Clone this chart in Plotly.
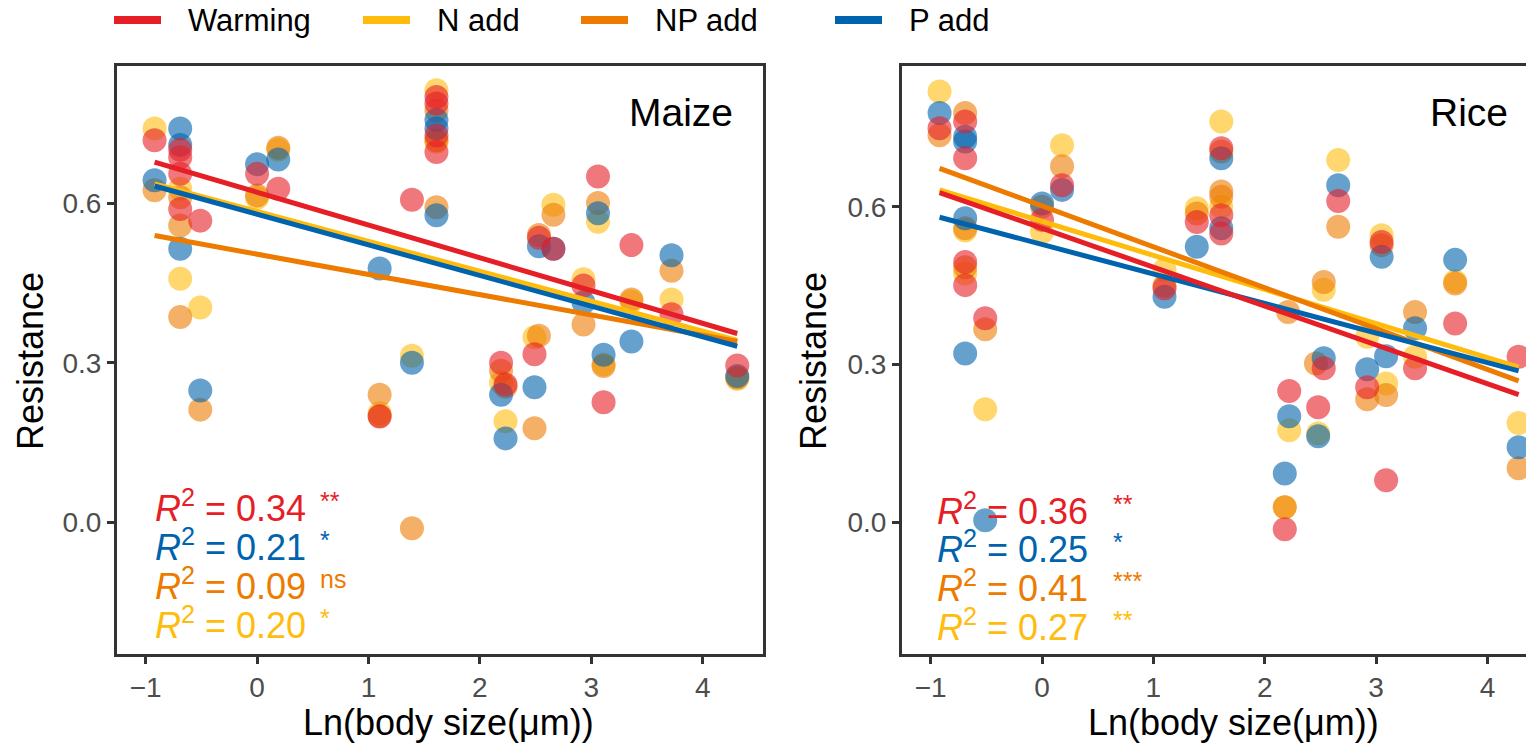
import plotly.graph_objects as go

W, H = 1534, 744
OFF = 8  # the page body margin shifts the figure by 8 px

# ---------------- data ----------------
series_names = ["N add", "NP add", "P add", "Warming"]          # drawing order
legend_order = ["Warming", "N add", "NP add", "P add"]
colors = {"Warming": "#E61E26", "N add": "#FFBC0D", "NP add": "#EC7B00", "P add": "#0063AE"}

# Maize panel
maize_warming_x = [-0.92, -0.69, -0.69, -0.69, -0.69, -0.51, 0.0, 0.19, 1.10, 1.39, 1.61, 1.61, 1.61, 1.61,
                   2.19, 2.23, 2.49, 2.53, 2.66, 2.93, 3.06, 3.11, 3.36, 3.72, 4.31]
maize_warming_y = [0.718, 0.700, 0.686, 0.655, 0.589, 0.567, 0.655, 0.627, 0.199, 0.606, 0.799, 0.787, 0.727, 0.696,
                   0.300, 0.259, 0.316, 0.535, 0.514, 0.445, 0.650, 0.226, 0.521, 0.391, 0.295]
maize_nadd_x = [-0.92, -0.69, -0.69, -0.51, 0.0, 0.19, 1.10, 1.39, 1.61, 1.61, 2.19, 2.23, 2.49, 2.66, 2.93, 3.06,
                3.11, 3.36, 3.72, 4.31]
maize_nadd_y = [0.740, 0.627, 0.458, 0.404, 0.610, 0.700, 0.205, 0.313, 0.812, 0.715, 0.263, 0.190, 0.348, 0.597,
                0.457, 0.565, 0.297, 0.415, 0.419, 0.270]
maize_npadd_x = [-0.92, -0.69, -0.69, -0.69, -0.51, 0.0, 0.19, 1.10, 1.10, 1.39, 1.61, 1.61, 1.61, 2.19, 2.23,
                 2.49, 2.53, 2.53, 2.66, 2.93, 3.06, 3.11, 3.36, 3.72, 4.31]
maize_npadd_y = [0.624, 0.611, 0.558, 0.386, 0.212, 0.614, 0.704, 0.240, 0.200, -0.011, 0.774, 0.718, 0.592, 0.285,
                 0.255, 0.177, 0.351, 0.540, 0.578, 0.372, 0.600, 0.294, 0.419, 0.473, 0.272]
maize_padd_x = [-0.92, -0.69, -0.69, -0.69, -0.51, 0.0, 0.19, 1.10, 1.39, 1.61, 1.61, 1.61, 2.19, 2.23, 2.49,
                2.53, 2.66, 2.93, 3.06, 3.11, 3.36, 3.72, 4.31]
maize_padd_y = [0.643, 0.740, 0.709, 0.514, 0.248, 0.673, 0.682, 0.477, 0.300, 0.756, 0.740, 0.577, 0.240, 0.158,
                0.254, 0.519, 0.514, 0.413, 0.581, 0.315, 0.340, 0.502, 0.275]

# Rice panel
rice_warming_x = [-0.92, -0.69, -0.69, -0.69, -0.69, -0.51, 0.0, 0.18, 1.10, 1.39, 1.61, 1.61, 1.61, 2.18, 2.22,
                  2.48, 2.53, 2.66, 2.92, 3.05, 3.09, 3.35, 3.71, 4.28]
rice_warming_y = [0.749, 0.762, 0.692, 0.495, 0.451, 0.388, 0.575, 0.641, 0.445, 0.571, 0.711, 0.584, 0.549, -0.013,
                  0.250, 0.219, 0.293, 0.611, 0.257, 0.533, 0.080, 0.293, 0.378, 0.315]
rice_nadd_x = [-0.92, -0.69, -0.69, -0.51, 0.0, 0.18, 1.10, 1.39, 1.61, 1.61, 2.18, 2.22, 2.48, 2.53, 2.66, 2.92,
               3.05, 3.09, 3.35, 3.71, 4.28]
rice_nadd_y = [0.819, 0.555, 0.473, 0.215, 0.552, 0.717, 0.480, 0.597, 0.762, 0.600, 0.029, 0.175, 0.169, 0.442,
               0.689, 0.353, 0.546, 0.264, 0.315, 0.458, 0.189]
rice_npadd_x = [-0.92, -0.69, -0.69, -0.69, -0.51, 0.0, 0.18, 1.10, 1.39, 1.61, 1.61, 1.61, 2.18, 2.21, 2.46,
                2.53, 2.66, 2.92, 3.05, 3.09, 3.35, 3.71, 4.28]
rice_npadd_y = [0.736, 0.778, 0.559, 0.485, 0.367, 0.600, 0.677, 0.450, 0.587, 0.705, 0.629, 0.619, 0.029, 0.400,
                0.302, 0.457, 0.562, 0.234, 0.527, 0.242, 0.400, 0.454, 0.103]
rice_padd_x = [-0.92, -0.69, -0.69, -0.69, -0.69, -0.51, 0.0, 0.18, 1.10, 1.39, 1.61, 1.61, 2.18, 2.22, 2.48,
               2.53, 2.66, 2.92, 3.05, 3.09, 3.35, 3.71, 4.28]
rice_padd_y = [0.778, 0.733, 0.724, 0.578, 0.321, 0.004, 0.606, 0.632, 0.429, 0.524, 0.692, 0.559, 0.093, 0.202,
               0.164, 0.312, 0.641, 0.291, 0.505, 0.316, 0.369, 0.499, 0.143]

# fitted regression lines (y at the two ends of the x span)
maize_fit_x = [-0.92, 4.31]
maize_fit_warming = [0.677, 0.355]
maize_fit_nadd = [0.636, 0.342]
maize_fit_npadd = [0.539, 0.340]
maize_fit_padd = [0.632, 0.331]

rice_fit_x = [-0.92, 4.28]
rice_fit_warming = [0.627, 0.243]
rice_fit_nadd = [0.632, 0.295]
rice_fit_npadd = [0.673, 0.269]
rice_fit_padd = [0.580, 0.288]

# R^2 labels (order as printed) and significance marks
maize_r2 = [("Warming", "0.34", "**"), ("P add", "0.21", "*"), ("NP add", "0.09", "ns"), ("N add", "0.20", "*")]
rice_r2 = [("Warming", "0.36", "**"), ("P add", "0.25", "*"), ("NP add", "0.41", "***"), ("N add", "0.27", "**")]

x_tickvals = [-1, 0, 1, 2, 3, 4]
x_ticktext = ["\u22121", "0", "1", "2", "3", "4"]
y_tickvals = [0.0, 0.3, 0.6]
y_ticktext = ["0.0", "0.3", "0.6"]

# ---------------- figure ----------------
FONT = "Liberation Sans, Arial, Helvetica, sans-serif"
AX = "#333333"

pts = {
    "maize": {"Warming": (maize_warming_x, maize_warming_y), "N add": (maize_nadd_x, maize_nadd_y),
              "NP add": (maize_npadd_x, maize_npadd_y), "P add": (maize_padd_x, maize_padd_y)},
    "rice": {"Warming": (rice_warming_x, rice_warming_y), "N add": (rice_nadd_x, rice_nadd_y),
             "NP add": (rice_npadd_x, rice_npadd_y), "P add": (rice_padd_x, rice_padd_y)},
}
fits = {
    "maize": (maize_fit_x, {"Warming": maize_fit_warming, "N add": maize_fit_nadd,
                            "NP add": maize_fit_npadd, "P add": maize_fit_padd}),
    "rice": (rice_fit_x, {"Warming": rice_fit_warming, "N add": rice_fit_nadd,
                          "NP add": rice_fit_npadd, "P add": rice_fit_padd}),
}
axes = {"maize": ("x", "y"), "rice": ("x2", "y2")}

fig = go.Figure()
for panel in ["maize", "rice"]:
    xa, ya = axes[panel]
    for s in series_names:
        xs, ys = pts[panel][s]
        fig.add_trace(go.Scatter(x=xs, y=ys, mode="markers", name=s, showlegend=False,
                                 xaxis=xa, yaxis=ya, hoverinfo="skip",
                                 marker=dict(size=24, color=colors[s], opacity=0.6, line=dict(width=0))))
    fx, fdict = fits[panel]
    for s in series_names:
        fig.add_trace(go.Scatter(x=fx, y=fdict[s], mode="lines", name=s, showlegend=False,
                                 xaxis=xa, yaxis=ya, hoverinfo="skip",
                                 line=dict(color=colors[s], width=5)))


def px_x(p):
    return (p - OFF) / W


def px_y(p):
    return 1 - (p - OFF) / H


common_x = dict(tickvals=x_tickvals, ticktext=x_ticktext, showgrid=False, zeroline=False,
                showline=True, linecolor=AX, linewidth=2.5, ticks="outside", ticklen=7,
                tickwidth=2.5, tickcolor=AX, tickfont=dict(size=28, color="#4D4D4D", family=FONT))
common_y = dict(tickvals=y_tickvals, ticktext=y_ticktext, showgrid=False, zeroline=False,
                showline=True, linecolor=AX, linewidth=2.5, ticks="outside", ticklen=7,
                tickwidth=2.5, tickcolor=AX, tickfont=dict(size=28, color="#4D4D4D", family=FONT))

ydom = [px_y(654), px_y(65.7)]
fig.update_layout(
    width=W, height=H, margin=dict(l=0, r=0, t=0, b=0),
    paper_bgcolor="white", plot_bgcolor="white",
    font=dict(family=FONT, color="black"),
    xaxis=dict(domain=[px_x(116.7), px_x(763)], range=[-1.26, 4.541], mirror=True, anchor="y", **common_x),
    yaxis=dict(domain=ydom, range=[-0.247, 0.858], mirror=True, anchor="x", **common_y),
    xaxis2=dict(domain=[px_x(901.7), 1.0], range=[-1.26, 4.49], mirror=True, anchor="y2", **common_x),
    yaxis2=dict(domain=ydom, range=[-0.250, 0.868], mirror=False, anchor="x2", **common_y),
)

ann = []
shapes = []
# panel labels
ann.append(dict(text="Maize", x=px_x(735), y=px_y(113), xref="paper", yref="paper",
                xanchor="right", yanchor="middle", showarrow=False, font=dict(size=39, color="black")))
ann.append(dict(text="Rice", x=px_x(1510), y=px_y(113), xref="paper", yref="paper",
                xanchor="right", yanchor="middle", showarrow=False, font=dict(size=39, color="black")))
# axis titles
for cx in [448, 1233]:
    ann.append(dict(text="Ln(body size(\u03bcm))", x=px_x(cx), y=px_y(722), xref="paper", yref="paper",
                    xanchor="center", yanchor="middle", showarrow=False, font=dict(size=36, color="black")))
for cx in [30, 813]:
    ann.append(dict(text="Resistance", x=px_x(cx), y=px_y(361), xref="paper", yref="paper", textangle=-90,
                    xanchor="center", yanchor="middle", showarrow=False, font=dict(size=36, color="black")))
# R^2 labels
rows = {"maize": ([505.5, 544.7, 583.5, 622.8], 153, 318), "rice": ([508.7, 547, 586, 624.5], 935, 1111)}
for panel, lab in [("maize", maize_r2), ("rice", rice_r2)]:
    ys, x0, xs = rows[panel]
    for (s, val, sig), yc in zip(lab, ys):
        ann.append(dict(text="<i>R</i><sup>2</sup> = " + val, x=px_x(x0), y=px_y(yc), xref="paper", yref="paper",
                        xanchor="left", yanchor="middle", showarrow=False, font=dict(size=36, color=colors[s])))
        ann.append(dict(text=sig, x=px_x(xs), y=px_y(yc - 21), xref="paper", yref="paper",
                        xanchor="left", yanchor="top", showarrow=False, font=dict(size=25, color=colors[s])))
# legend (manual, top)
leg_key_x = [114, 363, 581, 835]
for s, kx in zip(legend_order, leg_key_x):
    shapes.append(dict(type="line", xref="paper", yref="paper", x0=px_x(kx), x1=px_x(kx + 47),
                       y0=px_y(20), y1=px_y(20), line=dict(color=colors[s], width=8)))
    ann.append(dict(text=s, x=px_x(kx + 72), y=px_y(21), xref="paper", yref="paper",
                    xanchor="left", yanchor="middle", showarrow=False, font=dict(size=31, color="black")))

fig.update_layout(annotations=ann, shapes=shapes)
fig.write_html("out.html")
